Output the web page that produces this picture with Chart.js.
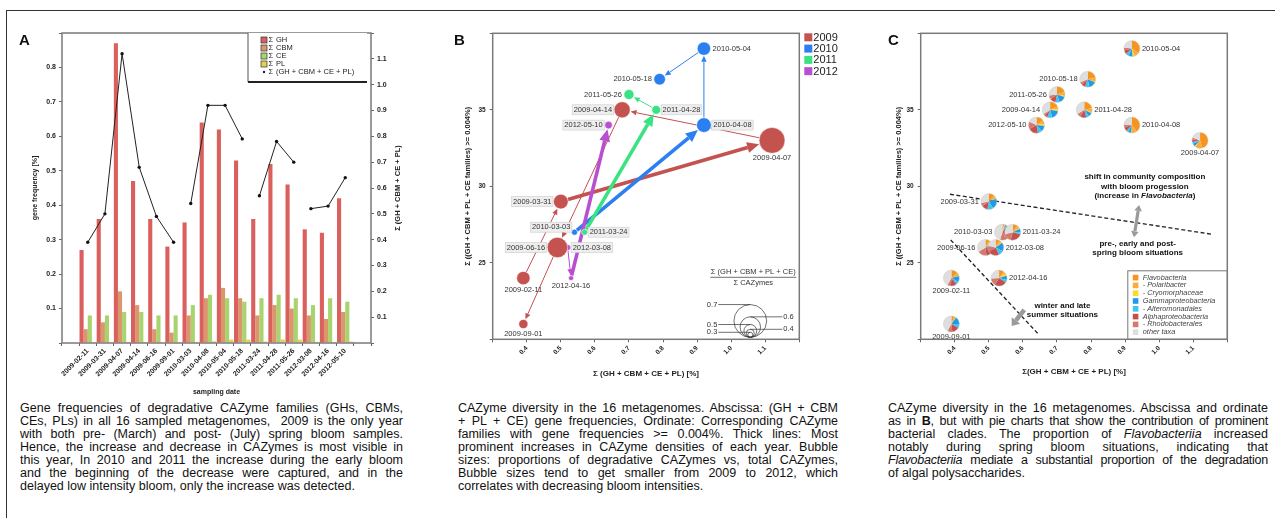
<!DOCTYPE html>
<html>
<head>
<meta charset="utf-8">
<script src="https://cdn.jsdelivr.net/npm/chart.js@4.4.0/dist/chart.umd.min.js"></script>
<style>
  html, body { margin: 0; padding: 0; background: #fff; }
  #wrap { position: relative; width: 1275px; height: 518px; overflow: hidden;
          font-family: "Liberation Sans", Arial, sans-serif; color: #111; }
  .frame-top { position: absolute; left: 6px; top: 10px; width: 1269px; border-top: 1.5px solid #333; }
  .frame-left { position: absolute; left: 6px; top: 10px; height: 508px; border-left: 1.5px solid #333; }
  canvas { position: absolute; top: 0; }
  .letter { position: absolute; top: 31px; font-weight: bold; font-size: 15px; }
  .cap { position: absolute; top: 402px; font-size: 12.5px; line-height: 13px; }
  .cap div { text-align: justify; text-align-last: justify; white-space: nowrap; }
  .cap div.last { text-align-last: left; }
  .cap div.tight { letter-spacing: -0.25px; }
</style>
</head>
<body>
<div id="wrap">
  <div class="frame-top"></div>
  <div class="frame-left"></div>
  <canvas id="chartA" width="415" height="400" style="left:0px"></canvas>
  <canvas id="chartB" width="430" height="400" style="left:420px"></canvas>
  <canvas id="chartC" width="415" height="400" style="left:860px"></canvas>
  <div class="letter" style="left:19px">A</div>
  <div class="letter" style="left:454px">B</div>
  <div class="letter" style="left:888px">C</div>

  <div class="cap" style="left:20px;width:383px">
    <div>Gene frequencies of degradative CAZyme families (GHs, CBMs,</div>
    <div>CEs, PLs) in all 16 sampled metagenomes,&nbsp; 2009 is the only year</div>
    <div>with both pre- (March) and post- (July) spring bloom samples.</div>
    <div>Hence, the increase and decrease in CAZymes is most visible in</div>
    <div>this year, In 2010 and 2011 the increase during the early bloom</div>
    <div>and the beginning of the decrease were captured, and in the</div>
    <div class="last">delayed low intensity bloom, only the increase was detected.</div>
  </div>
  <div class="cap" style="left:458px;width:380px">
    <div>CAZyme diversity in the 16 metagenomes. Abscissa: (GH + CBM</div>
    <div>+ PL + CE) gene frequencies, Ordinate: Corresponding CAZyme</div>
    <div>families with gene frequencies &gt;= 0.004%. Thick lines: Most</div>
    <div>prominent increases in CAZyme densities of each year. Bubble</div>
    <div>sizes: proportions of degradative CAZymes vs, total CAZymes,</div>
    <div>Bubble sizes tend to get smaller from 2009 to 2012, which</div>
    <div class="last">correlates with decreasing bloom intensities.</div>
  </div>
  <div class="cap" style="left:888px;width:380px">
    <div>CAZyme diversity in the 16 metagenomes. Abscissa and ordinate</div>
    <div class="tight">as in <b>B</b>, but with pie charts that show the contribution of prominent</div>
    <div>bacterial clades. The proportion of <i>Flavobacteriia</i> increased</div>
    <div>notably during spring bloom situations, indicating that</div>
    <div class="tight"><i>Flavobacteriia</i> mediate a substantial proportion of the degradation</div>
    <div class="last">of algal polysaccharides.</div>
  </div>
</div>

<script>
// sampling dates (one metagenome each)
const DATES = ['2009-02-11','2009-03-31','2009-04-07','2009-04-14','2009-06-16','2009-09-01',
  '2010-03-03','2010-04-08','2010-05-04','2010-05-18',
  '2011-03-24','2011-04-28','2011-05-26',
  '2012-03-08','2012-04-16','2012-05-10'];

// gene frequencies [%] per family (panel A bars)
const GH  = [0.27,0.36,0.87,0.47,0.36,0.28,0.35,0.64,0.62,0.53,0.36,0.52,0.46,0.33,0.32,0.42];
const CBM = [0.04,0.06,0.15,0.11,0.04,0.03,0.08,0.13,0.16,0.13,0.08,0.11,0.10,0.08,0.07,0.09];
const CE  = [0.08,0.08,0.09,0.09,0.08,0.08,0.11,0.14,0.13,0.12,0.13,0.14,0.13,0.11,0.13,0.12];
const PL  = [0.002,0.002,0.003,0.003,0.002,0.002,0.003,0.005,0.01,0.01,0.004,0.01,0.01,0.003,0.003,0.004];
// sum GH + CBM + CE + PL [%]
const SUM = [0.39,0.50,1.12,0.68,0.49,0.39,0.54,0.92,0.92,0.79,0.57,0.78,0.70,0.52,0.53,0.64];
// number of families with frequency >= 0.004%
const FAMILIES = [24,29,33,35,26,21,27,34,39,37,27,35,36,26,24,34];
// degradative CAZymes / all CAZymes (bubble size)
const RATIO = [0.51,0.53,0.65,0.55,0.60,0.43,0.34,0.53,0.51,0.48,0.34,0.42,0.45,0.34,0.30,0.39];
// most prominent increase of each year (arrow target)
const THICK = ['2009-04-07','2010-04-08','2011-04-28','2012-05-10'];
const YEARS = ['2009','2010','2011','2012'];
const RATIO_KEYS = [0.7,0.6,0.5,0.4,0.3];

// clade proportions (panel C pies)
const FLAVO  = [0.14,0.12,0.45,0.18,0.08,0.06,0.03,0.40,0.35,0.22,0.10,0.22,0.20,0.08,0.10,0.15];
const POLARI = [0.06,0.06,0.15,0.06,0.04,0.03,0.02,0.10,0.10,0.08,0.06,0.08,0.08,0.05,0.05,0.08];
const CRYO   = [0.01,0.01,0.02,0.04,0.01,0.01,0.01,0.02,0.04,0.01,0.02,0.02,0.02,0.02,0.05,0.04];
const GAMMA  = [0.12,0.22,0.06,0.18,0.06,0.15,0.02,0.06,0.08,0.16,0.07,0.08,0.15,0.18,0.09,0.12];
const ALTERO = [0.06,0.12,0.04,0.10,0.04,0.08,0.02,0.04,0.06,0.08,0.04,0.06,0.08,0.10,0.05,0.08];
const ALPHA  = [0.12,0.12,0.05,0.06,0.25,0.15,0.30,0.08,0.08,0.08,0.25,0.12,0.12,0.22,0.25,0.20];
const RHODO  = [0.07,0.07,0.04,0.04,0.18,0.10,0.15,0.06,0.06,0.06,0.16,0.08,0.08,0.13,0.15,0.15];
const OTHER  = [0.42,0.28,0.19,0.34,0.34,0.42,0.45,0.24,0.23,0.31,0.30,0.34,0.27,0.22,0.26,0.18];
const CLADES = ['Flavobacteria','- Polaribacter','- Cryomorphaceae','Gammaproteobacteria',
  '- Alteromonadales','Alphaproteobacteria','- Rhodobacterales','other taxa'];

// ---- styles ----
const FONT = '"Liberation Sans", Arial, sans-serif';
const NARROW = '"Liberation Sans Narrow", "Liberation Sans", Arial, sans-serif';
const YEAR_COLOR = { '2009': '#c4524f', '2010': '#2b7ff0', '2011': '#3be283', '2012': '#b84fd0' };
const CLADE_COLOR = ['#f7941d','#fbab3a','#fcd92a','#1f9be6','#3cc6f5','#c4504e','#d6786b','#dedede'];
const LABEL_POS_B = ['B','L','B','L','L','B','UL','R','R','L','R','R','L','R','B','L'];
const LABEL_BOX_B = [0,1,0,1,1,0,1,1,0,0,1,1,0,1,0,1];
const LABEL_POS_C = ['B','L','B','L','L','B','L','R','R','L','R','R','L','R','R','L'];

const yearOf = i => DATES[i].slice(0, 4);
const bubbleR = v => 0.61 * Math.exp(4.7 * v);
const xy = arr => arr.map((v, i) => ({ x: i, y: v }));

function plotBox(chart) {
  const { ctx, chartArea: a } = chart;
  ctx.save();
  ctx.strokeStyle = '#7a7a7a';
  ctx.lineWidth = 1.5;
  ctx.strokeRect(a.left, a.top, a.right - a.left, a.bottom - a.top);
  ctx.restore();
}

function drawLabel(ctx, text, x, y, r, pos, box) {
  ctx.font = '7.5px ' + FONT;
  ctx.textBaseline = 'middle';
  const w = ctx.measureText(text).width;
  let tx = x, ty = y, align = 'center';
  if (pos === 'L') { tx = x - r - 2; align = 'right'; }
  else if (pos === 'R') { tx = x + r + 2; align = 'left'; }
  else if (pos === 'B') { ty = y + r + 5; }
  else if (pos === 'UL') { tx = x - r - 1; ty = y - 5; align = 'right'; }
  const left = align === 'right' ? tx - w : align === 'center' ? tx - w / 2 : tx;
  if (box) {
    ctx.fillStyle = '#eeeeee';
    ctx.fillRect(left - 1.5, ty - 5, w + 3, 10);
    ctx.strokeStyle = '#cccccc';
    ctx.lineWidth = 0.6;
    ctx.strokeRect(left - 1.5, ty - 5, w + 3, 10);
  }
  ctx.fillStyle = '#333';
  ctx.textAlign = align;
  ctx.fillText(text, tx, ty);
}

function arrow(ctx, x1, y1, x2, y2, width, head, color, both) {
  const ang = Math.atan2(y2 - y1, x2 - x1);
  const c = Math.cos(ang), s = Math.sin(ang);
  ctx.save();
  ctx.strokeStyle = color;
  ctx.fillStyle = color;
  ctx.lineWidth = width;
  ctx.beginPath();
  ctx.moveTo(both ? x1 + c * head : x1, both ? y1 + s * head : y1);
  ctx.lineTo(x2 - c * head, y2 - s * head);
  ctx.stroke();
  const hw = Math.max(head * 0.45, width * 1.2);
  const tip = (tx, ty, dc, ds) => {
    const bx = tx - dc * head, by = ty - ds * head;
    ctx.beginPath();
    ctx.moveTo(tx, ty);
    ctx.lineTo(bx - ds * hw, by + dc * hw);
    ctx.lineTo(bx + ds * hw, by - dc * hw);
    ctx.closePath();
    ctx.fill();
  };
  tip(x2, y2, c, s);
  if (both) tip(x1, y1, -c, -s);
  ctx.restore();
}

const commonPlugins = { legend: { display: false }, tooltip: { enabled: false } };

// ---------------- Panel A ----------------
const panelA = {
  id: 'panelA',
  afterDraw(chart) {
    const { ctx, chartArea: a } = chart;
    plotBox(chart);
    ctx.save();
    // legend box
    const lx = a.right - 123, ly = a.top, lw = 119, lh = 49;
    ctx.fillStyle = '#fff';
    ctx.fillRect(lx, ly, lw, lh);
    ctx.strokeStyle = '#555';
    ctx.lineWidth = 1;
    ctx.beginPath();
    ctx.moveTo(lx, ly); ctx.lineTo(lx, ly + lh); ctx.stroke();
    ctx.lineWidth = 1.8;
    ctx.strokeStyle = '#222';
    ctx.beginPath();
    ctx.moveTo(lx, ly + lh); ctx.lineTo(lx + lw, ly + lh); ctx.stroke();
    const items = chart.data.datasets;
    ctx.font = '7.5px ' + FONT;
    ctx.textBaseline = 'middle';
    ctx.textAlign = 'left';
    items.forEach((ds, k) => {
      const y = ly + 7 + k * 8;
      if (ds.type === 'line') {
        ctx.fillStyle = '#222';
        ctx.beginPath(); ctx.arc(lx + 16, y, 1.2, 0, Math.PI * 2); ctx.fill();
      } else {
        ctx.fillStyle = ds.backgroundColor;
        ctx.fillRect(lx + 13, y - 3, 6, 6);
        ctx.strokeStyle = '#333';
        ctx.lineWidth = 0.7;
        ctx.strokeRect(lx + 13, y - 3, 6, 6);
      }
      ctx.fillStyle = '#222';
      ctx.fillText('\u03A3', lx + 20.5, y);
      ctx.fillText(ds.label, lx + 28, y);
    });
    // right axis title, reading upwards
    ctx.translate(398, (a.top + a.bottom) / 2);
    ctx.rotate(-Math.PI / 2);
    ctx.textAlign = 'center';
    ctx.font = 'bold 7.5px ' + FONT;
    ctx.fillStyle = '#222';
    ctx.fillText('\u03A3 (GH + CBM + CE + PL)', 0, 0);
    ctx.restore();
  }
};

new Chart(document.getElementById('chartA'), {
  type: 'bar',
  data: {
    datasets: [
      { label: 'GH', data: xy(GH), backgroundColor: '#da605e', yAxisID: 'y', order: 1 },
      { label: 'CBM', data: xy(CBM), backgroundColor: '#d9976b', yAxisID: 'y', order: 1 },
      { label: 'CE', data: xy(CE), backgroundColor: '#a8d46e', yAxisID: 'y', order: 1 },
      { label: 'PL', data: xy(PL), backgroundColor: '#e3d24e', yAxisID: 'y', order: 1 },
      { type: 'line', label: '(GH + CBM + CE + PL)', data: xy(SUM), yAxisID: 'y1', order: 0,
        borderColor: '#222', borderWidth: 1, pointRadius: 1.7, pointBackgroundColor: '#111',
        pointBorderWidth: 0,
        segment: { borderColor: c => yearOf(c.p0DataIndex) !== yearOf(c.p1DataIndex) ? 'rgba(0,0,0,0)' : '#222' } }
    ]
  },
  options: {
    responsive: false,
    animation: false,
    categoryPercentage: 0.96,
    barPercentage: 1,
    layout: { padding: { top: 33, left: 0, right: 0, bottom: 0 } },
    plugins: commonPlugins,
    scales: {
      x: {
        type: 'linear', min: -1, max: 16,
        border: { display: false },
        grid: { drawOnChartArea: false, tickLength: 3, color: '#666' },
        ticks: { stepSize: 1, autoSkip: false, minRotation: 45, maxRotation: 45, padding: 1,
          color: '#222', font: { size: 7, weight: 'bold', family: FONT },
          callback: v => (Number.isInteger(v) && v >= 0 && v < DATES.length) ? DATES[v] : '' },
        title: { display: true, text: 'sampling date', color: '#222',
          font: { size: 7, weight: 'bold', family: FONT }, padding: { top: 0, bottom: 4 } },
        afterFit: s => { s.height = 57; }
      },
      y: {
        position: 'left', min: 0, max: 0.9,
        border: { display: false },
        grid: { drawOnChartArea: false, tickLength: 3, color: '#666' },
        ticks: { stepSize: 0.1, padding: 3, color: '#222', font: { size: 7, weight: 'bold', family: FONT },
          callback: v => (v < 0.05 || v > 0.85) ? '' : v.toFixed(1) },
        title: { display: true, text: 'gene frequency [%]', color: '#222',
          font: { size: 7, weight: 'bold', family: FONT }, padding: { top: 31, bottom: 0 } },
        afterFit: s => { s.width = 62; }
      },
      y1: {
        position: 'right', min: 0, max: 1.2,
        border: { display: false },
        grid: { drawOnChartArea: false, tickLength: 3, color: '#666' },
        ticks: { stepSize: 0.1, padding: 3, color: '#222', font: { size: 7, weight: 'bold', family: FONT },
          callback: v => (v < 0.05 || v > 1.15) ? '' : v.toFixed(1) },
        afterFit: s => { s.width = 44; }
      }
    }
  },
  plugins: [panelA]
});

// ---------------- shared scatter axes for B and C ----------------
function scatterScales(yTitlePad, xTitlePad, yWidth, xTitle) {
  return {
    x: {
      type: 'linear', min: 0.3, max: 1.2,
      border: { display: false },
      grid: { drawOnChartArea: false, tickLength: 3, color: '#666' },
      ticks: { stepSize: 0.1, autoSkip: false, minRotation: 45, maxRotation: 45, padding: 2,
        color: '#222', font: { size: 6.5, weight: 'bold', family: FONT },
        callback: v => (v < 0.35 || v > 1.15) ? '' : v.toFixed(1) },
      title: { display: true, text: xTitle, color: '#222',
        font: { size: 8, weight: 'bold', family: FONT }, padding: { top: 0, bottom: xTitlePad } },
      afterFit: s => { s.height = 60.7; }
    },
    y: {
      min: 20, max: 40,
      border: { display: false },
      grid: { drawOnChartArea: false, tickLength: 3, color: '#666' },
      ticks: { stepSize: 5, padding: 4, color: '#222', font: { size: 6.5, weight: 'bold', family: FONT },
        callback: v => (v <= 20 || v >= 40) ? '' : String(v) },
      title: { display: true, text: '\u03A3 ((GH + CBM + PL + CE families) >= 0.004%)', color: '#222',
        font: { size: 7.5, weight: 'bold', family: FONT }, padding: { top: yTitlePad, bottom: 0 } },
      afterFit: s => { s.width = yWidth; }
    }
  };
}

// ---------------- Panel B ----------------
const panelB = {
  id: 'panelB',
  beforeDatasetsDraw(chart) {
    const { ctx, scales: { x, y } } = chart;
    YEARS.forEach(yr => {
      const idx = DATES.map((d, i) => i).filter(i => yearOf(i) === yr);
      for (let k = 0; k + 1 < idx.length; k++) {
        const i = idx[k], j = idx[k + 1];
        const x1 = x.getPixelForValue(SUM[i]), y1 = y.getPixelForValue(FAMILIES[i]);
        const x2 = x.getPixelForValue(SUM[j]), y2 = y.getPixelForValue(FAMILIES[j]);
        const ang = Math.atan2(y2 - y1, x2 - x1);
        const r1 = bubbleR(RATIO[i]), r2 = bubbleR(RATIO[j]);
        const thick = THICK.includes(DATES[j]);
        arrow(ctx, x1 + Math.cos(ang) * r1, y1 + Math.sin(ang) * r1,
          x2 - Math.cos(ang) * (r2 + 0.5), y2 - Math.sin(ang) * (r2 + 0.5),
          thick ? 3.6 : 1, thick ? 12 : 6, YEAR_COLOR[yr], false);
      }
    });
  },
  afterDatasetsDraw(chart) {
    const { ctx, chartArea: a, scales: { x, y } } = chart;
    ctx.save();
    DATES.forEach((d, i) => {
      drawLabel(ctx, d, x.getPixelForValue(SUM[i]), y.getPixelForValue(FAMILIES[i]),
        bubbleR(RATIO[i]), LABEL_POS_B[i], LABEL_BOX_B[i]);
    });
    // bubble size key
    const cx = a.right - 49, base = a.bottom - 2;
    ctx.fillStyle = '#333';
    ctx.font = '7.5px ' + FONT;
    ctx.textAlign = 'center';
    ctx.textBaseline = 'middle';
    ctx.fillText('\u03A3 (GH + CBM + PL + CE)', cx + 3, a.bottom - 67);
    ctx.fillText('\u03A3 CAZymes', cx + 3, a.bottom - 56.5);
    ctx.strokeStyle = '#333';
    ctx.lineWidth = 0.7;
    ctx.beginPath();
    ctx.moveTo(cx - 40, a.bottom - 62); ctx.lineTo(cx + 46, a.bottom - 62); ctx.stroke();
    RATIO_KEYS.forEach((v, k) => {
      const r = bubbleR(v);
      const top = base - 2 * r;
      ctx.beginPath();
      ctx.arc(cx, base - r, r, 0, Math.PI * 2);
      ctx.stroke();
      const left = k % 2 === 0;
      ctx.beginPath();
      ctx.moveTo(cx, top);
      ctx.lineTo(left ? cx - 32 : cx + 32, top);
      ctx.stroke();
      ctx.textAlign = left ? 'right' : 'left';
      ctx.fillText(v.toFixed(1), left ? cx - 33 : cx + 33, top);
    });
    // year legend
    ctx.font = '11px ' + FONT;
    ctx.textAlign = 'left';
    YEARS.forEach((yr, k) => {
      const yy = a.top + 4 + k * 11.3;
      ctx.fillStyle = YEAR_COLOR[yr];
      ctx.fillRect(a.right + 5, yy - 4, 8, 8);
      ctx.fillStyle = '#222';
      ctx.fillText(yr, a.right + 14, yy + 0.5);
    });
    ctx.restore();
    plotBox(chart);
  }
};

new Chart(document.getElementById('chartB'), {
  type: 'bubble',
  data: {
    datasets: YEARS.map(yr => ({
      label: yr,
      data: DATES.map((d, i) => i).filter(i => yearOf(i) === yr)
        .map(i => ({ x: SUM[i], y: FAMILIES[i], r: bubbleR(RATIO[i]) })),
      backgroundColor: YEAR_COLOR[yr],
      borderColor: 'rgba(255,255,255,0.7)',
      borderWidth: 0.8
    }))
  },
  options: {
    responsive: false,
    animation: false,
    layout: { padding: { top: 33.3, left: 0, right: 50.7, bottom: 0 } },
    plugins: commonPlugins,
    scales: scatterScales(43, 21, 72.7, '\u03A3 (GH + CBM + CE + PL) [%]')
  },
  plugins: [panelB]
});

// ---------------- Panel C ----------------
const CLADE_SHARES = [FLAVO, POLARI, CRYO, GAMMA, ALTERO, ALPHA, RHODO, OTHER];
const PIE_R = 8;
const DIVIDERS = [[[0.386, 29.48], [1.157, 26.86]], [[0.388, 26.49], [0.645, 20.35]]];
const NOTES = [
  { x: 0.958, y: [30.59, 30.0, 29.39], lines: ['shift in community composition', 'with bloom progession', '(increase in |Flavobacteria|)'] },
  { x: 0.937, y: [26.23, 25.64], lines: ['pre-, early and post-', 'spring bloom situations'] },
  { x: 0.716, y: [22.22, 21.63], lines: ['winter and late', 'summer situations'] }
];

function drawNoteLine(ctx, text, cx, cy) {
  // text between |...| is italic
  const parts = text.split('|');
  const fonts = parts.map((p, k) => (k % 2 ? 'italic ' : '') + 'bold 8px ' + NARROW);
  let total = 0;
  parts.forEach((p, k) => { ctx.font = fonts[k]; total += ctx.measureText(p).width; });
  let xx = cx - total / 2;
  ctx.textAlign = 'left';
  parts.forEach((p, k) => { ctx.font = fonts[k]; ctx.fillText(p, xx, cy); xx += ctx.measureText(p).width; });
}

const panelC = {
  id: 'panelC',
  afterDatasetsDraw(chart) {
    const { ctx, chartArea: a, scales: { x, y } } = chart;
    ctx.save();
    // dashed dividers
    ctx.strokeStyle = '#222';
    ctx.lineWidth = 1.3;
    ctx.setLineDash([4, 2.5]);
    DIVIDERS.forEach(([p, q]) => {
      ctx.beginPath();
      ctx.moveTo(x.getPixelForValue(p[0]), y.getPixelForValue(p[1]));
      ctx.lineTo(x.getPixelForValue(q[0]), y.getPixelForValue(q[1]));
      ctx.stroke();
    });
    ctx.setLineDash([]);
    // grey arrows
    arrow(ctx, x.getPixelForValue(0.941), y.getPixelForValue(28.78),
      x.getPixelForValue(0.926), y.getPixelForValue(26.67), 3.2, 6, '#9a9a9a', true);
    arrow(ctx, x.getPixelForValue(0.604), y.getPixelForValue(21.92),
      x.getPixelForValue(0.567), y.getPixelForValue(20.87), 4.5, 7, '#9a9a9a', false);
    // pies
    const meta = chart.getDatasetMeta(0);
    meta.data.forEach((pt, i) => {
      let start = -Math.PI / 2;
      CLADE_SHARES.forEach((arr, k) => {
        const end = start + arr[i] * Math.PI * 2;
        ctx.beginPath();
        ctx.moveTo(pt.x, pt.y);
        ctx.arc(pt.x, pt.y, PIE_R, start, end);
        ctx.closePath();
        ctx.fillStyle = CLADE_COLOR[k];
        ctx.fill();
        start = end;
      });
      ctx.beginPath();
      ctx.arc(pt.x, pt.y, PIE_R, 0, Math.PI * 2);
      ctx.strokeStyle = 'rgba(200,200,200,0.7)';
      ctx.lineWidth = 0.6;
      ctx.stroke();
    });
    meta.data.forEach((pt, i) => drawLabel(ctx, DATES[i], pt.x, pt.y, PIE_R, LABEL_POS_C[i], 0));
    // notes
    ctx.fillStyle = '#111';
    ctx.textBaseline = 'middle';
    NOTES.forEach(n => n.lines.forEach((t, k) =>
      drawNoteLine(ctx, t, x.getPixelForValue(n.x), y.getPixelForValue(n.y[k]))));
    // clade legend
    const lx = a.right - 99.5, ly = a.bottom - 68.5;
    ctx.fillStyle = '#fff';
    ctx.fillRect(lx, ly, a.right - lx, a.bottom - ly);
    ctx.strokeStyle = '#777';
    ctx.lineWidth = 1;
    ctx.strokeRect(lx, ly, a.right - lx, a.bottom - ly);
    ctx.font = 'italic 7.3px ' + FONT;
    ctx.textAlign = 'left';
    CLADES.forEach((c, k) => {
      const yy = ly + 6.8 + k * 7.8;
      ctx.fillStyle = CLADE_COLOR[k];
      ctx.fillRect(lx + 5, yy - 2.8, 5.6, 5.6);
      ctx.fillStyle = '#444';
      ctx.fillText(c, lx + 15, yy);
    });
    ctx.restore();
    plotBox(chart);
  }
};

new Chart(document.getElementById('chartC'), {
  type: 'scatter',
  data: {
    datasets: [{ label: 'samples', data: SUM.map((v, i) => ({ x: v, y: FAMILIES[i] })), pointRadius: 0 }]
  },
  options: {
    responsive: false,
    animation: false,
    layout: { padding: { top: 33.3, left: 0, right: 47.7, bottom: 0 } },
    plugins: commonPlugins,
    scales: scatterScales(34, 23, 60.7, '\u03A3(GH + CBM + CE + PL) [%]')
  },
  plugins: [panelC]
});
</script>
</body>
</html>
